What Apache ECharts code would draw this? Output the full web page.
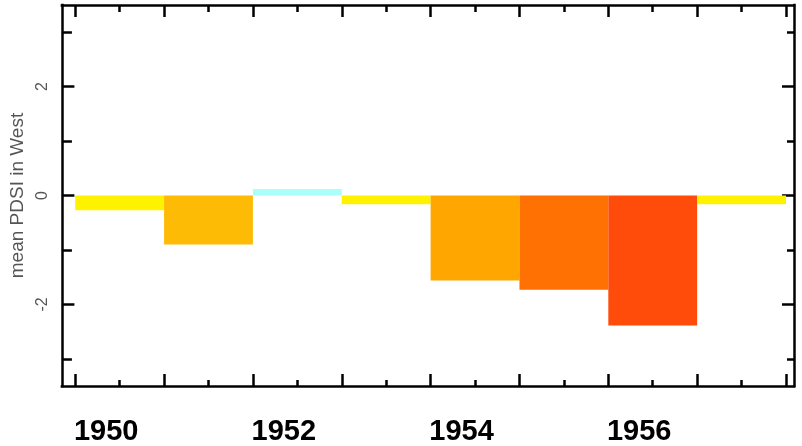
<!DOCTYPE html>
<html>
<head>
<meta charset="utf-8">
<script src="https://cdn.jsdelivr.net/npm/echarts@6/dist/echarts.min.js"></script>
<style>
  html, body { margin: 0; padding: 0; background: #fff; }
  #chart { width: 802px; height: 446px; }
</style>
</head>
<body>
<div id="chart"></div>
<script>
// data
const years = [1950, 1951, 1952, 1953, 1954, 1955, 1956, 1957];
const pdsi = [-0.27, -0.90, 0.12, -0.16, -1.56, -1.73, -2.39, -0.16];
const barColors = ['#fff200', '#fdbb05', '#aafffa', '#fff200', '#ffa600', '#ff7102', '#ff4c0b', '#fff200'];

// tick values
const xMajorTicks = [1949.5, 1950.5, 1951.5, 1952.5, 1953.5, 1954.5, 1955.5, 1956.5, 1957.5];
const xMinorTicks = [1950, 1951, 1952, 1953, 1954, 1955, 1956, 1957];
const xLabelYears = [1950, 1952, 1954, 1956];
const yMajorTicks = [-2, 0, 2];
const yMinorTicks = [-3, -1, 1, 3];

const xMin = 1949.35, xMax = 1957.59;
const yMin = -3.5, yMax = 3.5;
const binHalf = 0.5;

const frameLine = { color: '#000', width: 2.5, cap: 'square' };
const tickLine = { color: '#000', width: 2.5 };

function xAxisDef(pos, ticks, len, withLabels) {
    return {
        type: 'value', position: pos, min: xMin, max: xMax,
        axisLine: { show: len > 8, onZero: false, lineStyle: frameLine },
        axisTick: { show: true, inside: true, length: len, customValues: ticks, lineStyle: tickLine },
        axisLabel: withLabels ? {
            show: true, customValues: xLabelYears, margin: 31,
            padding: [0, 27, 0, 0],
            fontFamily: 'Liberation Sans, Arial, sans-serif', fontWeight: 'bold', fontSize: 29, color: '#000',
            formatter: v => String(Math.round(v))
        } : { show: false },
        splitLine: { show: false }
    };
}

function yAxisDef(pos, ticks, len, withLabels) {
    const ax = {
        type: 'value', position: pos, min: yMin, max: yMax,
        axisLine: { show: len > 11, onZero: false, lineStyle: frameLine },
        axisTick: { show: true, inside: true, length: len, customValues: ticks, lineStyle: tickLine },
        axisLabel: withLabels ? {
            show: true, customValues: yMajorTicks, rotate: 90, margin: 11,
            fontFamily: 'Liberation Sans, Arial, sans-serif', fontSize: 16, color: '#555'
        } : { show: false },
        splitLine: { show: false }
    };
    if (withLabels) {
        ax.name = 'mean PDSI in West';
        ax.nameLocation = 'middle';
        ax.nameGap = 25;
        ax.nameTextStyle = { fontFamily: 'Liberation Sans, Arial, sans-serif', fontSize: 19, color: '#555' };
    }
    return ax;
}

function renderBar(params, api) {
    const yr = api.value(0);
    const a = api.coord([yr - binHalf, api.value(1)]);
    const b = api.coord([yr + binHalf, 0]);
    return {
        type: 'rect',
        shape: { x: a[0], y: Math.min(a[1], b[1]), width: b[0] - a[0], height: Math.abs(b[1] - a[1]) },
        style: { fill: barColors[params.dataIndex] }
    };
}

const chart = echarts.init(document.getElementById('chart'));
chart.setOption({
    animation: false,
    grid: { left: 60, right: 8, top: 5, bottom: 60 },
    xAxis: [
        xAxisDef('bottom', xMajorTicks, 12, true),
        xAxisDef('bottom', xMinorTicks, 6, false),
        xAxisDef('top', xMajorTicks, 12, false),
        xAxisDef('top', xMinorTicks, 7, false)
    ],
    yAxis: [
        yAxisDef('left', yMajorTicks, 12.5, true),
        yAxisDef('left', yMinorTicks, 10, false),
        yAxisDef('right', yMajorTicks, 12, false),
        yAxisDef('right', yMinorTicks, 7, false)
    ],
    series: [{
        type: 'custom',
        xAxisIndex: 0,
        yAxisIndex: 0,
        renderItem: renderBar,
        data: years.map((y, i) => [y, pdsi[i]])
    }]
});
</script>
</body>
</html>
